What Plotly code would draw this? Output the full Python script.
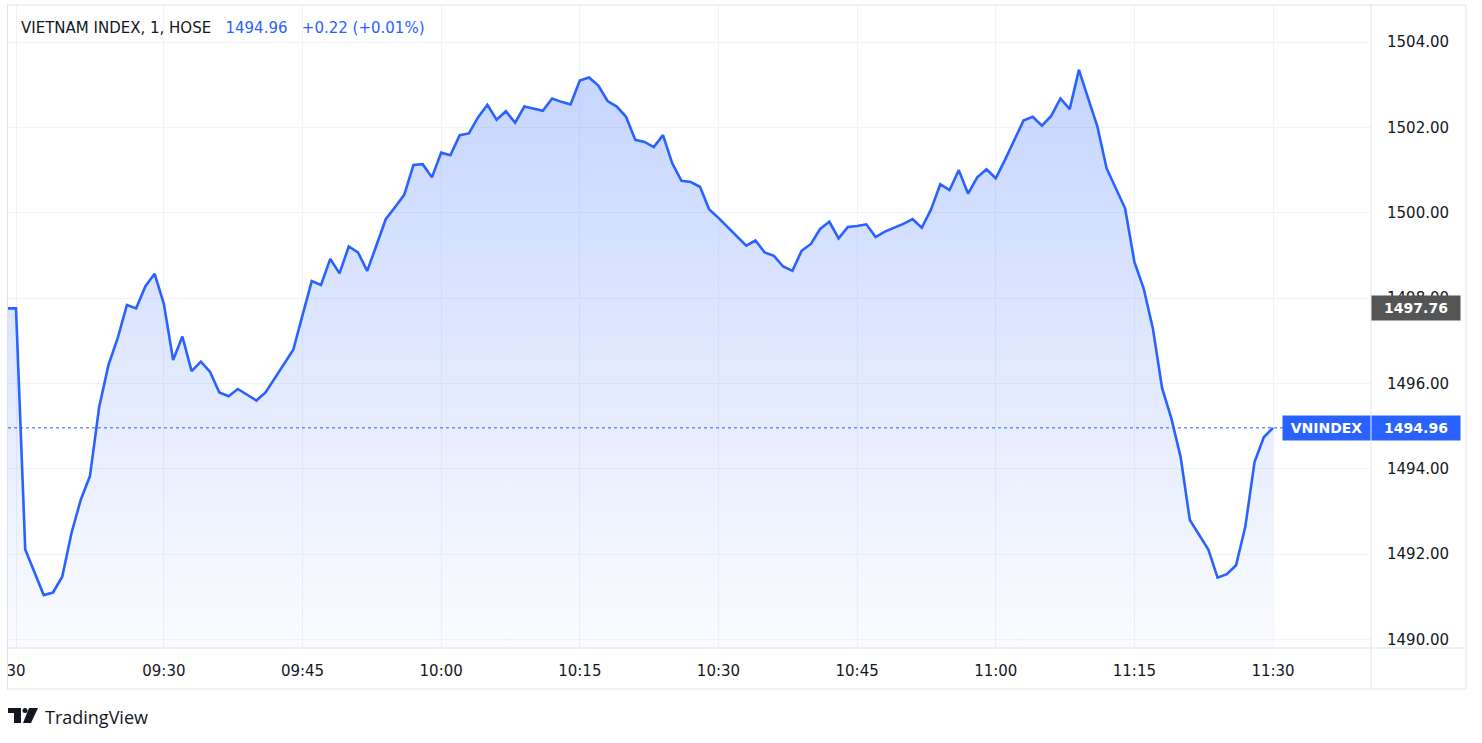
import plotly.graph_objects as go
import pandas as pd

# ---------------- data ----------------
session_minutes = pd.date_range("2000-01-01 09:15", "2000-01-01 11:30", freq="min").strftime("%H:%M").tolist()
bar_times = ["29 14:45", "30 09:00"] + ["30 " + t for t in session_minutes]

index_values = [
    1497.76,  # previous session close
    1497.76, 1492.11, 1491.58, 1491.04, 1491.10, 1491.47, 1492.49, 1493.27, 1493.83, 1495.45,
    1496.43, 1497.06, 1497.84, 1497.76, 1498.28, 1498.57, 1497.86, 1496.55, 1497.10, 1496.29,
    1496.51, 1496.27, 1495.79, 1495.70, 1495.87, 1495.74, 1495.60, 1495.79, 1496.12, 1496.45,
    1496.79, 1497.60, 1498.40, 1498.31, 1498.92, 1498.58, 1499.21, 1499.07, 1498.64, 1499.24,
    1499.85, 1500.13, 1500.42, 1501.12, 1501.14, 1500.83, 1501.41, 1501.35, 1501.82, 1501.86,
    1502.24, 1502.53, 1502.18, 1502.38, 1502.11, 1502.49, 1502.44, 1502.39, 1502.68, 1502.60,
    1502.54, 1503.10, 1503.17, 1502.98, 1502.62, 1502.49, 1502.25, 1501.71, 1501.66, 1501.54,
    1501.82, 1501.16, 1500.75, 1500.72, 1500.61, 1500.08, 1499.88, 1499.67, 1499.45, 1499.23,
    1499.35, 1499.07, 1498.99, 1498.74, 1498.64, 1499.11, 1499.27, 1499.62, 1499.79, 1499.40,
    1499.67, 1499.69, 1499.73, 1499.43, 1499.56, 1499.65, 1499.74, 1499.85, 1499.65, 1500.08,
    1500.67, 1500.53, 1501.00, 1500.45, 1500.83, 1501.02, 1500.81, 1501.24, 1501.71, 1502.16,
    1502.25, 1502.04, 1502.27, 1502.68, 1502.43, 1503.35, 1502.68, 1502.02, 1501.04, 1500.57,
    1500.10, 1498.85, 1498.23, 1497.29, 1495.89, 1495.18, 1494.28, 1492.80, 1492.45, 1492.11,
    1491.45, 1491.53, 1491.74, 1492.64, 1494.16, 1494.74, 1494.96,
]

x_tick_times = ["30 09:00", "30 09:30", "30 09:45", "30 10:00", "30 10:15",
                "30 10:30", "30 10:45", "30 11:00", "30 11:15", "30 11:30"]
x_tick_labels = ["30", "09:30", "09:45", "10:00", "10:15", "10:30", "10:45", "11:00", "11:15", "11:30"]
y_tick_values = [1490, 1492, 1494, 1496, 1498, 1500, 1502, 1504]

symbol_title = "VIETNAM INDEX, 1, HOSE"
symbol_name = "VNINDEX"
last_price = 1494.96
change_text = "+0.22 (+0.01%)"
prev_close = 1497.76

# ---------------- layout geometry ----------------
W, H = 1482, 743
PL, PR, PT, PB = 8, 1371, 5, 648   # plot area in pixels
BLUE = "#2962FF"
TEXT = "#131722"
BORDER = "#e0e3eb"
GRID = "#f0f3fa"
FONT = "DejaVu Sans"


def px(x):
    return (x - PL) / (PR - PL)


def py(y):
    return (PB - y) / (PB - PT)


fig = go.Figure()
fig.add_trace(go.Scatter(
    x=bar_times, y=index_values, mode="lines",
    line=dict(color=BLUE, width=2.6),
    fill="tozeroy",
    fillgradient=dict(type="vertical", start=1489.8, stop=1503.6,
                      colorscale=[[0, "rgba(41,98,255,0.02)"], [1, "rgba(41,98,255,0.27)"]]),
    hoverinfo="skip", showlegend=False,
))

shapes = []
# last price dotted line
shapes.append(dict(type="line", xref="paper", yref="y", x0=0, x1=1, y0=last_price, y1=last_price,
                   line=dict(color=BLUE, width=1, dash="dot")))


def hline(y, x0, x1):
    shapes.append(dict(type="line", xref="paper", yref="paper", x0=px(x0), x1=px(x1), y0=py(y), y1=py(y),
                       line=dict(color=BORDER, width=1), layer="above"))


def vline(x, y0, y1):
    shapes.append(dict(type="line", xref="paper", yref="paper", x0=px(x), x1=px(x), y0=py(y0), y1=py(y1),
                       line=dict(color=BORDER, width=1), layer="above"))


hline(5, 7, 1466)
hline(648, 7, 1466)
hline(689, 7, 1466)
vline(7.5, 5, 689)
vline(1371, 5, 689)
vline(1466, 5, 689)


# TradingView logo (approximation)
def rect(x0, y0, x1, y1):
    shapes.append(dict(type="rect", xref="paper", yref="paper", x0=px(x0), x1=px(x1), y0=py(y1), y1=py(y0),
                       fillcolor=TEXT, line=dict(width=0)))


rect(8, 708, 21, 713)
rect(14, 708, 21, 723)
shapes.append(dict(type="circle", xref="paper", yref="paper", x0=px(22.5), x1=px(27.5), y0=py(713), y1=py(708),
                   fillcolor=TEXT, line=dict(width=0)))
shapes.append(dict(type="path", xref="paper", yref="paper",
                   path=f"M {px(29)} {py(708)} L {px(38)} {py(708)} L {px(31)} {py(723)} L {px(23)} {py(723)} Z",
                   fillcolor=TEXT, line=dict(width=0)))

annotations = [
    dict(xref="paper", yref="paper", x=px(19), y=py(28), xanchor="left", yanchor="middle",
         text=(f"{symbol_title}&nbsp;&nbsp;&nbsp;<span style='color:{BLUE}'>{last_price:.2f}</span>"
               f"&nbsp;&nbsp;&nbsp;<span style='color:{BLUE}'>{change_text}</span>"),
         showarrow=False, font=dict(family=FONT, size=15, color=TEXT)),
    dict(xref="paper", yref="paper", x=px(43), y=py(717), xanchor="left", yanchor="middle",
         text="TradingView", showarrow=False, font=dict(family="Open Sans", size=18, color=TEXT)),
    # previous close label
    dict(xref="paper", yref="y", x=1, y=prev_close, xanchor="left", yanchor="middle",
         text=f"<b>{prev_close:.2f}</b>", showarrow=False, bgcolor="#555555",
         width=84, height=20, borderpad=2, align="center",
         font=dict(family=FONT, size=14, color="white")),
    # last price label (name part + value part)
    dict(xref="paper", yref="y", x=1, y=last_price, xanchor="right", yanchor="middle",
         text=f"<b>{symbol_name}</b>", showarrow=False, bgcolor=BLUE,
         width=83, height=20, borderpad=2, align="center",
         font=dict(family=FONT, size=14, color="white")),
    dict(xref="paper", yref="y", x=1, y=last_price, xanchor="left", yanchor="middle",
         text=f"<b>{last_price:.2f}</b>", showarrow=False, bgcolor=BLUE,
         width=84, height=20, borderpad=2, align="center",
         font=dict(family=FONT, size=14, color="white")),
]

fig.update_layout(
    width=W, height=H,
    margin=dict(l=PL, r=W - PR, t=PT, b=H - PB, pad=0),
    paper_bgcolor="white", plot_bgcolor="white",
    shapes=shapes, annotations=annotations,
    showlegend=False,
    xaxis=dict(type="category", categoryorder="array", categoryarray=bar_times,
               range=[0.134, 147.6], tickmode="array", tickvals=x_tick_times, ticktext=x_tick_labels,
               showgrid=True, gridcolor=GRID, gridwidth=1, zeroline=False, showline=False,
               ticks="", ticklabelstandoff=12,
               tickfont=dict(family=FONT, size=15, color=TEXT)),
    yaxis=dict(side="right", range=[1489.8, 1504.87], tickmode="array", tickvals=y_tick_values,
               tickformat=".2f", showgrid=True, gridcolor=GRID, gridwidth=1, zeroline=False,
               showline=False, ticks="", ticklabelstandoff=15,
               tickfont=dict(family=FONT, size=15, color=TEXT)),
)

fig.write_html("out.html", config={"displayModeBar": False},
               post_script="document.body.style.margin='0';document.body.style.overflow='hidden';")
